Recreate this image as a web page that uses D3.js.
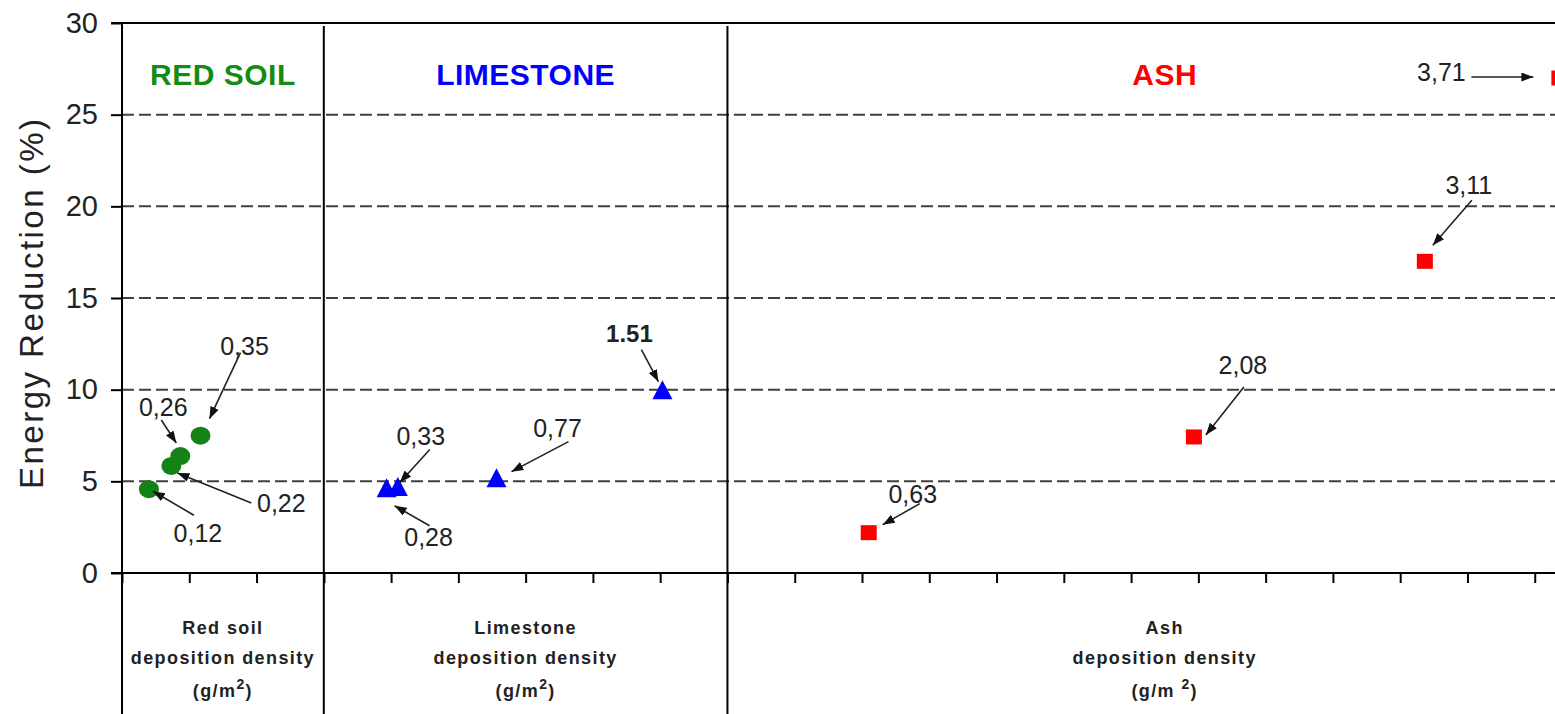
<!DOCTYPE html>
<html><head><meta charset="utf-8">
<script src="https://cdn.jsdelivr.net/npm/d3@7"></script>
<style>
body{margin:0;background:#fff;}
svg{display:block;font-family:"Liberation Sans",Arial,Helvetica,sans-serif;}
</style>
</head><body>
<svg id="chart" width="1555" height="714"></svg>
<script>
// ---------- data ----------
const yTicks = [0, 5, 10, 15, 20, 25, 30];
const panelNames = ["RED SOIL", "LIMESTONE", "ASH"];
const panelWidths = [0.9, 1.8, 3.9];          // g/m2 span of each panel
const xTickStep = 0.3;
const axisLine1 = ["Red soil", "Limestone", "Ash"];
const axisLine2 = ["deposition density", "deposition density", "deposition density"];
const axisLine3 = ["(g/m", "(g/m", "(g/m "];

const redSoilX = [0.12, 0.22, 0.26, 0.35];
const redSoilY = [4.57, 5.84, 6.38, 7.49];
const redSoilLabels = ["0,12", "0,22", "0,26", "0,35"];

const limestoneX = [0.28, 0.33, 0.77, 1.51];
const limestoneY = [4.65, 4.72, 5.2, 10.0];
const limestoneLabels = ["0,28", "0,33", "0,77", "1.51"];

const ashX = [0.63, 2.08, 3.11, 3.71];
const ashY = [2.2, 7.42, 17.0, 27.0];
const ashLabels = ["0,63", "2,08", "3,11", "3,71"];

// ---------- layout / style ----------
const W = 1555, H = 714;
const mLeft = 122, mTop = 23, mBottom = 573;
const xEnd = 1602;
const colors = ["#148c14", "#0000ff", "#ff0000"];

// annotation offsets (px relative to marker): [label dx,dy, arrow start dx,dy, arrow tip dx,dy]
const redSoilAnn = [[49,44,45,26,4,2],[110,37,80,37,6,7],[-17,-49,-19,-36,-4,-13],[44,-90,40,-83,9,-17]];
const limestoneAnn = [[42,49,43,38,8,18],[23,-50,32,-37,2,-4],[61,-50,72,-36,15,-6],[-33,-56,-21,-40,-4,-8]];
const ashAnn = [[44,-39,51,-29,14,-8],[49,-72,50,-50,12,-2],[44,-76,47,-61,8,-16],[-118,-6,-88,-1,-26,-1]];

const svg = d3.select("#chart");

const y = d3.scaleLinear().domain([0, 30]).range([mBottom, mTop]);
const totalWidth = d3.sum(panelWidths);
const xAll = d3.scaleLinear().domain([0, totalWidth]).range([mLeft, xEnd]);
const offsets = [0, panelWidths[0], panelWidths[0] + panelWidths[1]];
const panelScales = panelWidths.map((w, i) =>
  d3.scaleLinear().domain([0, w]).range([xAll(offsets[i]), xAll(offsets[i] + w)]));

// arrow marker
svg.append("defs").append("marker")
  .attr("id", "arrow").attr("markerUnits", "userSpaceOnUse")
  .attr("markerWidth", 13).attr("markerHeight", 9)
  .attr("refX", 12).attr("refY", 4.5).attr("orient", "auto")
  .append("path").attr("d", "M0,0 L12,4.5 L0,9 Z").attr("fill", "#111");

// gridlines
svg.append("g").selectAll("line")
  .data(yTicks.filter(v => v > 0 && v < 30)).join("line")
  .attr("x1", mLeft).attr("x2", W)
  .attr("y1", d => y(d)).attr("y2", d => y(d))
  .attr("stroke", "#404040").attr("stroke-width", 2)
  .attr("stroke-dasharray", "12,5");

// y axis
const yAxis = svg.append("g").attr("transform", `translate(${mLeft},0)`)
  .call(d3.axisLeft(y).tickValues(yTicks).tickSize(11).tickPadding(13));
yAxis.select(".domain").remove();
yAxis.selectAll(".tick line").attr("stroke", "#000").attr("stroke-width", 2);
yAxis.selectAll(".tick text").attr("font-size", 29).attr("fill", "#222")
  .attr("font-family", "Liberation Sans, Arial, sans-serif");

// x axis ticks per panel
panelScales.forEach((s, i) => {
  const ticks = d3.range(0, panelWidths[i] + 1e-9, xTickStep);
  const g = svg.append("g").attr("transform", `translate(0,${mBottom})`)
    .call(d3.axisBottom(s).tickValues(ticks).tickSize(10).tickFormat(""));
  g.select(".domain").remove();
  g.selectAll(".tick line").attr("stroke", "#000").attr("stroke-width", 2);
});

// frame lines
svg.append("line").attr("x1", mLeft - 11).attr("x2", W).attr("y1", y(30)).attr("y2", y(30))
  .attr("stroke", "#000").attr("stroke-width", 2.2);
svg.append("line").attr("x1", mLeft - 11).attr("x2", W).attr("y1", y(0)).attr("y2", y(0))
  .attr("stroke", "#000").attr("stroke-width", 2.2);
const vlines = [mLeft, panelScales[1].range()[0], panelScales[2].range()[0]];
svg.append("g").selectAll("line").data(vlines).join("line")
  .attr("x1", d => d).attr("x2", d => d)
  .attr("y1", (d, i) => i === 0 ? y(30) : y(30) + 3).attr("y2", H)
  .attr("stroke", "#000").attr("stroke-width", 2);

// y title
svg.append("text")
  .attr("transform", `translate(43,${(mTop + mBottom) / 2 + 6}) rotate(-90)`)
  .attr("text-anchor", "middle").attr("font-size", 33).attr("fill", "#222")
  .attr("textLength", 370).attr("lengthAdjust", "spacing")
  .text("Energy Reduction (%)");

// panel titles and bottom labels
panelScales.forEach((s, i) => {
  const cx = (s.range()[0] + s.range()[1]) / 2;
  svg.append("text").attr("x", cx).attr("y", 85)
    .attr("text-anchor", "middle").attr("font-size", 30).attr("font-weight", "bold")
    .attr("letter-spacing", 0.5).attr("fill", colors[i]).text(panelNames[i]);
  const lab = svg.append("g").attr("font-size", 18).attr("font-weight", "bold")
    .attr("fill", "#222").attr("letter-spacing", 1.4).attr("text-anchor", "middle");
  lab.append("text").attr("x", cx).attr("y", 634).text(axisLine1[i]);
  lab.append("text").attr("x", cx).attr("y", 664).text(axisLine2[i]);
  const t3 = lab.append("text").attr("x", cx).attr("y", 697);
  t3.append("tspan").text(axisLine3[i]);
  t3.append("tspan").attr("dy", -8).attr("font-size", 14).text("2");
  t3.append("tspan").attr("dy", 8).text(")");
});

// points
const series = [
  {xs: redSoilX, ys: redSoilY, labels: redSoilLabels, ann: redSoilAnn, shape: "circle"},
  {xs: limestoneX, ys: limestoneY, labels: limestoneLabels, ann: limestoneAnn, shape: "triangle"},
  {xs: ashX, ys: ashY, labels: ashLabels, ann: ashAnn, shape: "square"}
];

series.forEach((ser, i) => {
  const sx = panelScales[i];
  const pts = ser.xs.map((v, k) => ({px: sx(v), py: y(ser.ys[k]), label: ser.labels[k], ann: ser.ann[k]}));
  const g = svg.append("g");
  if (ser.shape === "circle") {
    g.selectAll("ellipse").data(pts).join("ellipse")
      .attr("cx", d => d.px).attr("cy", d => d.py).attr("rx", 10).attr("ry", 9)
      .attr("fill", "#148214");
  } else if (ser.shape === "triangle") {
    g.selectAll("path").data(pts).join("path")
      .attr("d", d => `M${d.px},${d.py - 9.5} L${d.px + 10},${d.py + 9.5} L${d.px - 10},${d.py + 9.5} Z`)
      .attr("fill", colors[1]);
  } else {
    g.selectAll("rect").data(pts).join("rect")
      .attr("x", d => d.px - 8).attr("y", d => d.py - 7.5).attr("width", 16).attr("height", 15)
      .attr("fill", colors[2]);
  }
  const a = svg.append("g");
  a.selectAll("line").data(pts).join("line")
    .attr("x1", d => d.px + d.ann[2]).attr("y1", d => d.py + d.ann[3])
    .attr("x2", d => d.px + d.ann[4]).attr("y2", d => d.py + d.ann[5])
    .attr("stroke", "#222").attr("stroke-width", 1.6).attr("marker-end", "url(#arrow)");
  a.selectAll("text").data(pts).join("text")
    .attr("x", d => d.px + d.ann[0]).attr("y", d => d.py + d.ann[1])
    .attr("dy", "0.36em").attr("text-anchor", "middle")
    .attr("font-size", d => d.label.includes(".") ? 24 : 25)
    .attr("font-weight", d => d.label.includes(".") ? "bold" : "normal")
    .attr("fill", "#222").text(d => d.label);
});
</script>
</body></html>
